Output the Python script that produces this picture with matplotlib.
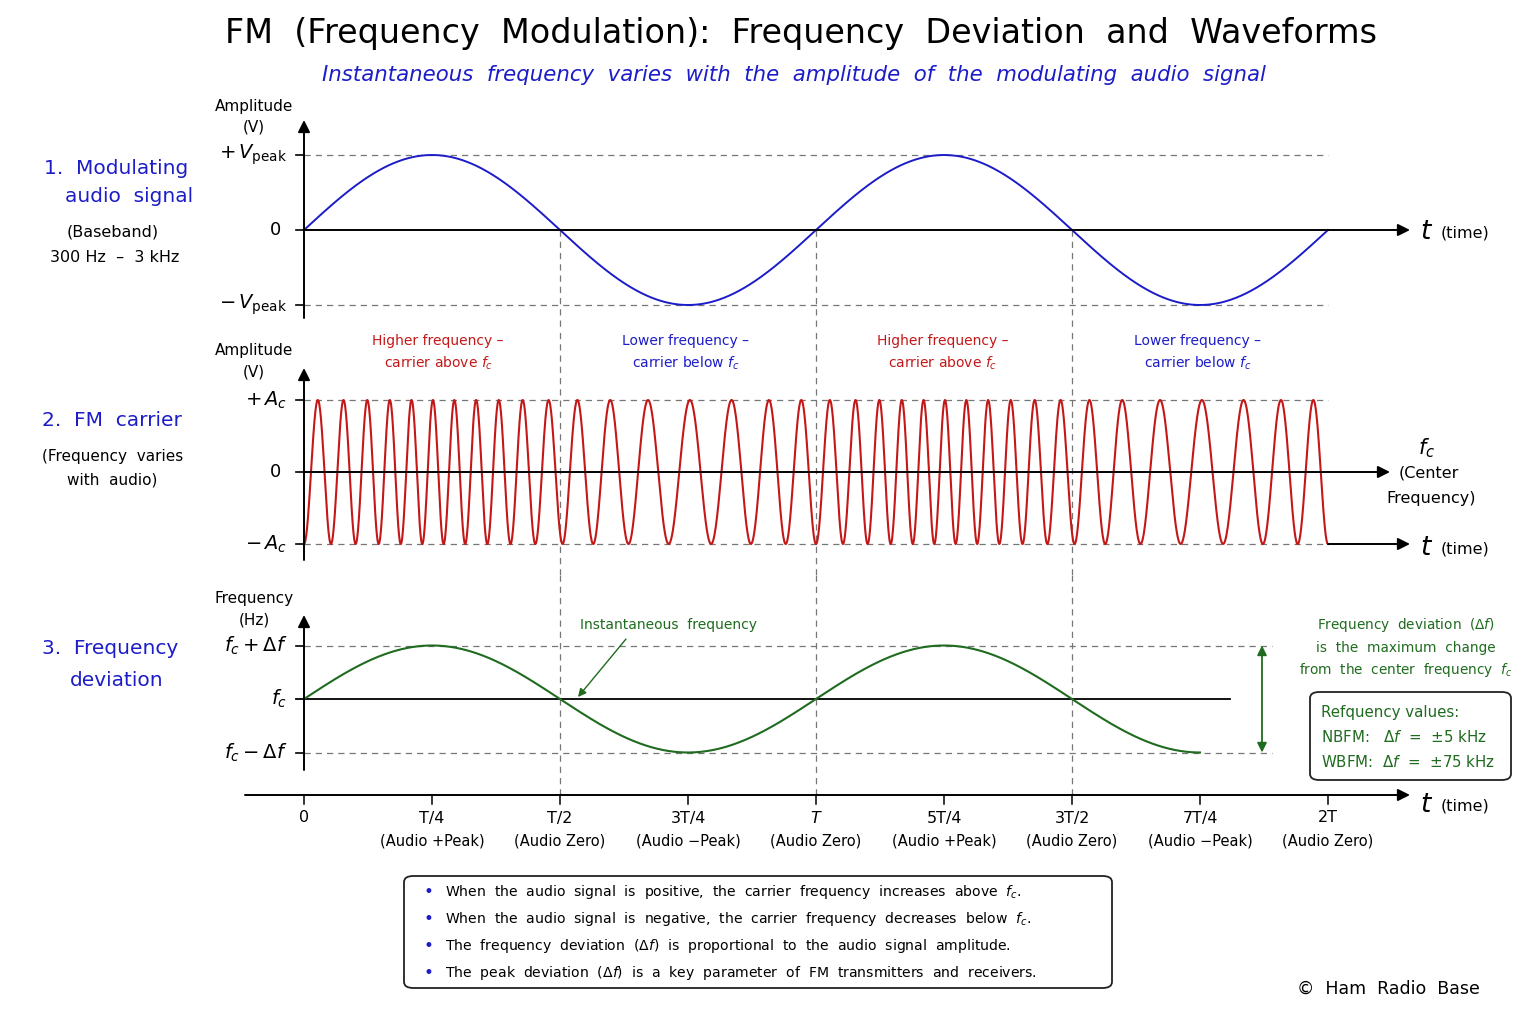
import numpy as np
import matplotlib.pyplot as plt
from matplotlib.patches import FancyBboxPatch

plt.rcParams['font.family'] = ['DejaVu Sans']
plt.rcParams['mathtext.fontset'] = 'dejavusans'

# waveform parameters (time in units of the audio period T)
periods = 2
fc_cycles = 18      # carrier cycles per audio period
dev_cycles = 6      # peak deviation, cycles per audio period
freq_curve_end = 1.75

tick_pos = [0, 0.25, 0.5, 0.75, 1.0, 1.25, 1.5, 1.75, 2.0]
tick_main = ['0', 'T/4', 'T/2', '3T/4', '$T$', '5T/4', '3T/2', '7T/4', '2T']
tick_sub = ['', '(Audio +Peak)', '(Audio Zero)', '(Audio \u2212Peak)', '(Audio Zero)',
            '(Audio +Peak)', '(Audio Zero)', '(Audio \u2212Peak)', '(Audio Zero)']
zero_cross = [0.5, 1.0, 1.5]

band_pos = [0.262, 0.746, 1.248, 1.746]
band_head = ['Higher frequency \u2013', 'Lower frequency \u2013',
             'Higher frequency \u2013', 'Lower frequency \u2013']
band_tail = ['carrier above $f_c$', 'carrier below $f_c$',
             'carrier above $f_c$', 'carrier below $f_c$']

notes = ['When  the  audio  signal  is  positive,  the  carrier  frequency  increases  above  $f_c$.',
         'When  the  audio  signal  is  negative,  the  carrier  frequency  decreases  below  $f_c$.',
         'The  frequency  deviation  $(\\Delta f)$  is  proportional  to  the  audio  signal  amplitude.',
         'The  peak  deviation  $(\\Delta f)$  is  a  key  parameter  of  FM  transmitters  and  receivers.']

BLUE = '#1c1cc8'
RED = '#c41818'
GREEN = '#1f6b1f'
GRAY = '#777777'

t = np.linspace(0, periods, 4001)
audio = np.sin(2 * np.pi * t)
phase = 2 * np.pi * fc_cycles * t + dev_cycles * (1 - np.cos(2 * np.pi * t))
carrier = -np.cos(phase)
tf = np.linspace(0, freq_curve_end, 1000)
inst_freq = np.sin(2 * np.pi * tf)

fig = plt.figure(figsize=(15.36, 10.24), dpi=100)
W, H = 1536, 1024
XL = (-304 / 512, (W - 304) / 512)


def fx(px):
    return px / W


def fy(py):
    return 1 - py / H


def make_ax(top, bot, zero, scale):
    ax = fig.add_axes([0, fy(bot), 1, (bot - top) / H])
    ax.set_xlim(*XL)
    ax.set_ylim((zero - bot) / scale, (zero - top) / scale)
    ax.axis('off')
    return ax


def arrow(ax, x0, y0, x1, y1, color='black', lw=1.4):
    ax.annotate('', xy=(x1, y1), xytext=(x0, y0),
                arrowprops=dict(arrowstyle='-|>', color=color, lw=lw,
                                mutation_scale=18, shrinkA=0, shrinkB=0))


ax1 = make_ax(95, 330, 230, 75)
ax2 = make_ax(330, 575, 472, 72)
ax3 = make_ax(575, 860, 699, 53.5)

dash = dict(color=GRAY, lw=0.9, ls=(0, (5, 4)))
ylo1 = ax1.get_ylim()[0]
bottom_axis = (699 - 795) / 53.5

# ---- panel 1: audio ----
for v in (1, -1):
    ax1.plot([0, 2.0], [v, v], **dash)
    ax1.plot([-0.016, 0], [v, v], color='black', lw=1.2)
ax1.plot([-0.016, 0], [0, 0], color='black', lw=1.2)
arrow(ax1, 0, 0, (1410 - 304) / 512, 0)
arrow(ax1, 0, (230 - 318) / 75, 0, (230 - 120) / 75)
for x in zero_cross:
    ax1.plot([x, x], [0, ylo1], **dash)
ax1.plot(t, audio, color=BLUE, lw=1.4)
ax1.text(-0.033, 1, '$+\\,V_{\\mathrm{peak}}$', ha='right', va='center', fontsize=14)
ax1.text(-0.045, 0, '0', ha='right', va='center', fontsize=13)
ax1.text(-0.033, -1, '$-\\,V_{\\mathrm{peak}}$', ha='right', va='center', fontsize=14)
ax1.text((1420 - 304) / 512, (230 - 232) / 75, '$t$', ha='left', va='center', fontsize=19)
ax1.text((1441 - 304) / 512, (230 - 233) / 75, '(time)', ha='left', va='center', fontsize=11.5)

# ---- panel 2: carrier ----
for v in (1, -1):
    ax2.plot([0, 2.0], [v, v], **dash)
    ax2.plot([-0.016, 0], [v, v], color='black', lw=1.2)
ax2.plot([-0.016, 0], [0, 0], color='black', lw=1.2)
for x in zero_cross:
    ax2.plot([x, x], list(ax2.get_ylim()), **dash)
arrow(ax2, 0, 0, (1390 - 304) / 512, 0)
arrow(ax2, 2.0, -1, (1410 - 304) / 512, -1)
arrow(ax2, 0, (472 - 560) / 72, 0, (472 - 368) / 72)
ax2.plot(t, carrier, color=RED, lw=1.5)
ax2.text(-0.033, 1, '$+\\,A_c$', ha='right', va='center', fontsize=14)
ax2.text(-0.045, 0, '0', ha='right', va='center', fontsize=13)
ax2.text(-0.033, -1, '$-\\,A_c$', ha='right', va='center', fontsize=14)
for x, h, s, c in zip(band_pos, band_head, band_tail, [RED, BLUE, RED, BLUE]):
    ax2.text(x, (472 - 341) / 72, h, ha='center', va='center', fontsize=10, color=c)
    ax2.text(x, (472 - 363) / 72, s, ha='center', va='center', fontsize=10, color=c)
ax2.text((1427 - 304) / 512, (472 - 448) / 72, '$f_c$', ha='center', va='center', fontsize=15)
ax2.text((1429 - 304) / 512, (472 - 473) / 72, '(Center', ha='center', va='center', fontsize=11.5)
ax2.text((1431 - 304) / 512, (472 - 498) / 72, 'Frequency)', ha='center', va='center', fontsize=11.5)
ax2.text((1420 - 304) / 512, (472 - 548) / 72, '$t$', ha='left', va='center', fontsize=19)
ax2.text((1441 - 304) / 512, (472 - 549) / 72, '(time)', ha='left', va='center', fontsize=11.5)

# ---- panel 3: frequency deviation ----
for v in (1, -1):
    ax3.plot([0, (1272 - 304) / 512], [v, v], **dash)
    ax3.plot([-0.016, 0], [v, v], color='black', lw=1.2)
ax3.plot([-0.016, (1230 - 304) / 512], [0, 0], color='black', lw=1.3)
for x in zero_cross:
    ax3.plot([x, x], [ax3.get_ylim()[1], bottom_axis], **dash)
arrow(ax3, 0, (699 - 770) / 53.5, 0, (699 - 615) / 53.5)
ax3.plot(tf, inst_freq, color=GREEN, lw=1.5)
xa = (1262 - 304) / 512
ax3.annotate('', xy=(xa, 1), xytext=(xa, -1),
             arrowprops=dict(arrowstyle='<|-|>', color=GREEN, lw=1.3, mutation_scale=14,
                             shrinkA=0, shrinkB=0))
ax3.text(-0.033, 1, '$f_c+\\Delta f$', ha='right', va='center', fontsize=14)
ax3.text(-0.033, 0, '$f_c$', ha='right', va='center', fontsize=14)
ax3.text(-0.033, -1, '$f_c-\\Delta f$', ha='right', va='center', fontsize=14)
ax3.text((668 - 304) / 512, (699 - 625) / 53.5, 'Instantaneous  frequency',
         ha='center', va='center', fontsize=10, color=GREEN)
ax3.annotate('', xy=((578 - 304) / 512, (699 - 697) / 53.5),
             xytext=((626 - 304) / 512, (699 - 639) / 53.5),
             arrowprops=dict(arrowstyle='-|>', color=GREEN, lw=1.0, mutation_scale=12,
                             shrinkA=0, shrinkB=0))

# time axis
arrow(ax3, (245 - 304) / 512, bottom_axis, (1410 - 304) / 512, bottom_axis)
for x, m, s in zip(tick_pos, tick_main, tick_sub):
    ax3.plot([x, x], [bottom_axis, bottom_axis - 0.17], color='black', lw=1.1)
    ax3.text(x, (699 - 818) / 53.5, m, ha='center', va='center', fontsize=11.5)
    if s:
        ax3.text(x, (699 - 841) / 53.5, s, ha='center', va='center', fontsize=10.5)
ax3.text((1420 - 304) / 512, (699 - 805) / 53.5, '$t$', ha='left', va='center', fontsize=19)
ax3.text((1441 - 304) / 512, (699 - 806) / 53.5, '(time)', ha='left', va='center', fontsize=11.5)

# ---- figure-level text ----
fig.text(fx(801), fy(33), 'FM  (Frequency  Modulation):  Frequency  Deviation  and  Waveforms',
         ha='center', va='center', fontsize=24)
fig.text(fx(794), fy(75), 'Instantaneous  frequency  varies  with  the  amplitude  of  the  modulating  audio  signal',
         ha='center', va='center', fontsize=15.3, style='italic', color=BLUE)

for py, s in [(106, 'Amplitude'), (127, '(V)'), (351, 'Amplitude'), (372, '(V)'),
              (599, 'Frequency'), (620, '(Hz)')]:
    fig.text(fx(254), fy(py), s, ha='center', va='center', fontsize=11)

fig.text(fx(44), fy(168), '1.  Modulating', ha='left', va='center', fontsize=14.5, color=BLUE)
fig.text(fx(65), fy(197), 'audio  signal', ha='left', va='center', fontsize=14.5, color=BLUE)
fig.text(fx(113), fy(232), '(Baseband)', ha='center', va='center', fontsize=11.5)
fig.text(fx(115), fy(257), '300 Hz  \u2013  3 kHz', ha='center', va='center', fontsize=11.5)
fig.text(fx(42), fy(421), '2.  FM  carrier', ha='left', va='center', fontsize=14.5, color=BLUE)
fig.text(fx(113), fy(456), '(Frequency  varies', ha='center', va='center', fontsize=11)
fig.text(fx(112), fy(480), 'with  audio)', ha='center', va='center', fontsize=11)
fig.text(fx(42), fy(648), '3.  Frequency', ha='left', va='center', fontsize=14.5, color=BLUE)
fig.text(fx(70), fy(680), 'deviation', ha='left', va='center', fontsize=14.5, color=BLUE)

for py, s in [(625, 'Frequency  deviation  $(\\Delta f)$'), (648, 'is  the  maximum  change'),
              (670, 'from  the  center  frequency  $f_c$')]:
    fig.text(fx(1406), fy(py), s, ha='center', va='center', fontsize=9.8, color=GREEN)

box = FancyBboxPatch((fx(1310), fy(780)), fx(201), (780 - 692) / H,
                     boxstyle='round,pad=0,rounding_size=0.006', transform=fig.transFigure,
                     facecolor='white', edgecolor='#222222', lw=1.3)
fig.add_artist(box)
for py, s in [(712, 'Refquency values:'), (737, 'NBFM:   $\\Delta f$  =  \u00b15 kHz'),
              (762, 'WBFM:  $\\Delta f$  =  \u00b175 kHz')]:
    fig.text(fx(1321), fy(py), s, ha='left', va='center', fontsize=10.8, color=GREEN)

box2 = FancyBboxPatch((fx(404), fy(988)), fx(708), (988 - 876) / H,
                      boxstyle='round,pad=0,rounding_size=0.006', transform=fig.transFigure,
                      facecolor='white', edgecolor='#222222', lw=1.3)
fig.add_artist(box2)
for py, s in zip([892, 919, 946, 973], notes):
    fig.text(fx(428), fy(py), '\u2022', ha='center', va='center', fontsize=12, color=BLUE)
    fig.text(fx(445), fy(py), s, ha='left', va='center', fontsize=10.1)

fig.text(fx(1388), fy(989), '\u00a9  Ham  Radio  Base', ha='center', va='center', fontsize=12.5)

fig.savefig('out.png', dpi=100, facecolor='white')
